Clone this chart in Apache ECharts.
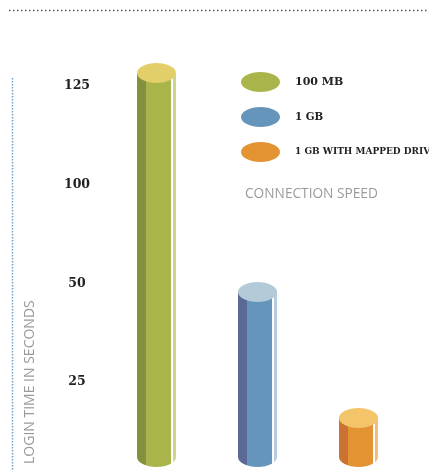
<!DOCTYPE html>
<html><head><meta charset="utf-8">
<script src="https://cdn.jsdelivr.net/npm/echarts@6/dist/echarts.min.js"></script>
<style>html,body{margin:0;padding:0;background:#fff}#c{width:429px;height:471px}</style>
</head><body><div id="c"></div>
<script>
// ---- data ----
const categories = ['100 MB', '1 GB', '1 GB WITH MAPPED DRIVE'];
const loginTimes = [128, 55, 13];
const tickLabels = ['25', '50', '100', '125'];
// ---- colours ----
const bodyColors = ['#A9B54A', '#6595BA', '#E39332'];
const shadeColors = ['#83903E', '#5A6A94', '#CB7233'];
const topColors = ['#E2CF6A', '#B3CAD8', '#F3C46A'];
const edgeColors = ['#CDD48E', '#B5CCE0', '#F2BC7A'];

function makeRender(i) {
  return function (params, api) {
    const top = api.coord([api.value(0), api.value(1)]);
    const base = api.coord([api.value(0), 0]);
    const w = api.size([1, 0])[0] * 0.386;
    const rx = w / 2, ry = 10;
    const cx = top[0], l = cx - rx, r = cx + rx;
    const yt = top[1], yb = base[1];
    const body = 'M' + l + ',' + yt + 'L' + l + ',' + yb + 'A' + rx + ',' + ry + ',0,0,0,' + r + ',' + yb + 'L' + r + ',' + yt + 'Z';
    const cap = 'M' + l + ',' + yt + 'A' + rx + ',' + ry + ',0,1,1,' + r + ',' + yt + 'A' + rx + ',' + ry + ',0,1,1,' + l + ',' + yt + 'Z';
    const grad = new echarts.graphic.LinearGradient(0, 0, 1, 0, [
      { offset: 0, color: shadeColors[i] },
      { offset: 0.22, color: shadeColors[i] },
      { offset: 0.22, color: bodyColors[i] },
      { offset: 0.88, color: bodyColors[i] },
      { offset: 0.885, color: '#ffffff' },
      { offset: 0.915, color: '#ffffff' },
      { offset: 0.92, color: edgeColors[i] },
      { offset: 1, color: edgeColors[i] }
    ]);
    return {
      type: 'group',
      children: [
        { type: 'path', shape: { pathData: body }, style: { fill: grad } },
        { type: 'path', shape: { pathData: cap }, style: { fill: topColors[i] } }
      ]
    };
  };
}

const series = categories.map(function (name, i) {
  return {
    type: 'custom',
    name: name,
    xAxisIndex: 0,
    yAxisIndex: 0,
    itemStyle: { color: bodyColors[i] },
    data: [[i, loginTimes[i]]],
    encode: { x: 0, y: 1 },
    renderItem: makeRender(i)
  };
});

const legendFonts = [11, 10.3, 9];

const option = {
  animation: false,
  backgroundColor: '#ffffff',
  grid: [
    { left: 106, right: 20, top: 37, bottom: 14 },
    { left: 100, width: 10, top: 36.5, bottom: 39.5 }
  ],
  xAxis: [
    { type: 'category', gridIndex: 0, data: categories, show: false },
    { type: 'value', gridIndex: 1, show: false }
  ],
  yAxis: [
    { type: 'value', gridIndex: 0, min: 0, max: 140, show: false },
    {
      type: 'category', gridIndex: 1, data: tickLabels,
      axisLine: { show: false }, axisTick: { show: false }, splitLine: { show: false },
      axisLabel: {
        margin: 23, align: 'center', color: '#222222',
        fontFamily: 'DejaVu Serif', fontWeight: 'bold', fontSize: 12.5
      }
    }
  ],
  legend: {
    orient: 'vertical', left: 236, top: 67,
    itemWidth: 39, itemHeight: 20, itemGap: 15,
    selectedMode: false,
    icon: 'path://M0,10A19.5,10,0,1,1,39,10A19.5,10,0,1,1,0,10Z',
    data: categories.map(function (name, i) {
      return {
        name: name,
        itemStyle: { color: bodyColors[i] },
        textStyle: {
          color: '#222222', fontFamily: 'DejaVu Serif', fontWeight: 'bold',
          fontSize: legendFonts[i], padding: [0, 0, 0, 10]
        }
      };
    })
  },
  title: {
    text: 'CONNECTION SPEED', left: 240, top: 182,
    textStyle: { color: '#9a9a9a', fontFamily: 'Open Sans', fontWeight: 'normal', fontSize: 13.7 }
  },
  graphic: [
    { type: 'line', shape: { x1: 9, y1: 10.5, x2: 429, y2: 10.5 },
      style: { stroke: '#555555', lineWidth: 1.5, lineDash: [1.5, 2.5] } },
    { type: 'line', shape: { x1: 12.5, y1: 78, x2: 12.5, y2: 471 },
      style: { stroke: '#6f9fcb', lineWidth: 1.5, lineDash: [1.5, 1.5] } },
    { type: 'text', x: 30, y: 464, rotation: Math.PI / 2,
      style: { text: 'LOGIN TIME IN SECONDS', fill: '#9a9a9a', fontFamily: 'Open Sans',
        fontSize: 14, textAlign: 'left', textVerticalAlign: 'middle' } }
  ],
  series: series
};

const chart = echarts.init(document.getElementById('c'), null, { renderer: 'canvas' });
chart.setOption(option);
</script>
</body></html>
